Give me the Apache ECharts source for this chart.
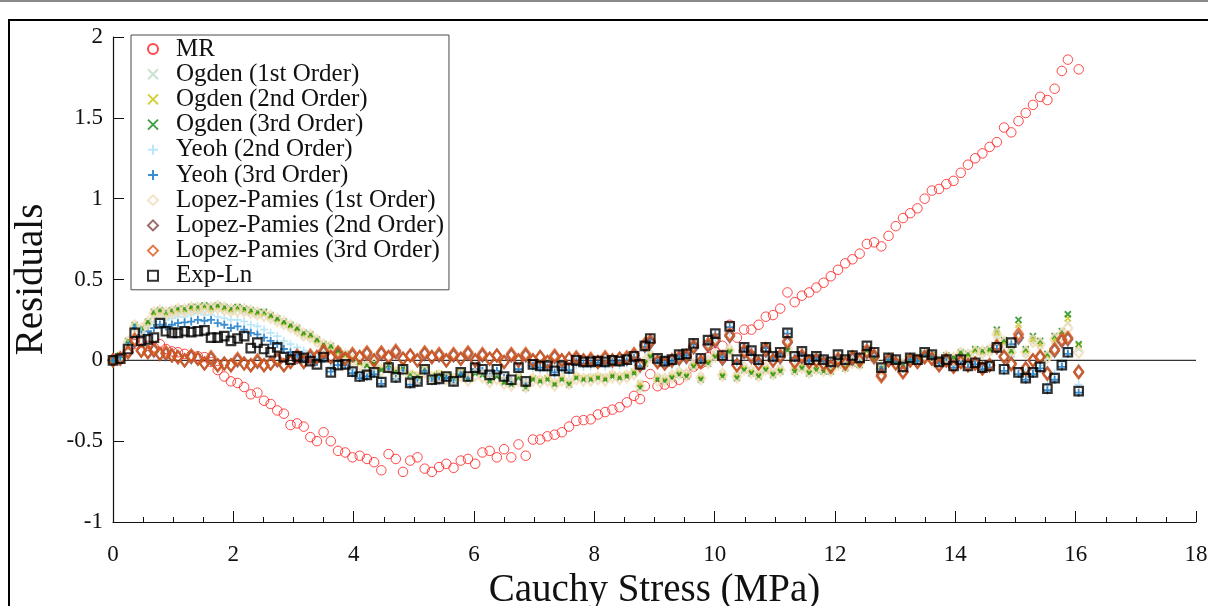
<!DOCTYPE html>
<html><head><meta charset="utf-8">
<script src="https://cdn.jsdelivr.net/npm/echarts/dist/echarts.min.js"></script>
<style>html,body{margin:0;padding:0;background:#fff}#c{width:1208px;height:606px}</style>
</head><body><div id="c"></div>
<script>
// ---- data (Cauchy stress in MPa, residuals) ----
const STRESS = [
 0,0.12,0.25,0.36,0.47,0.58,0.68,0.78,0.88,0.98,
 1.08,1.19,1.3,1.41,1.52,1.63,1.74,1.85,1.96,2.07,
 2.18,2.29,2.4,2.51,2.62,2.73,2.84,2.95,3.06,3.17,
 3.28,3.39,3.5,3.62,3.74,3.86,3.98,4.1,4.22,4.34,
 4.46,4.58,4.7,4.82,4.94,5.06,5.18,5.3,5.42,5.54,
 5.66,5.78,5.9,6.02,6.14,6.26,6.38,6.5,6.62,6.74,
 6.86,6.98,7.1,7.22,7.34,7.46,7.58,7.7,7.82,7.94,
 8.06,8.18,8.3,8.42,8.54,8.66,8.76,8.84,8.93,9.05,
 9.17,9.29,9.41,9.53,9.65,9.77,9.89,10.01,10.13,10.25,
 10.37,10.49,10.61,10.73,10.85,10.97,11.09,11.21,11.33,11.45,
 11.57,11.69,11.81,11.93,12.05,12.17,12.29,12.41,12.53,12.65,
 12.77,12.89,13.01,13.13,13.25,13.37,13.49,13.61,13.73,13.85,
 13.97,14.09,14.21,14.33,14.45,14.57,14.69,14.81,14.93,15.05,
 15.17,15.29,15.41,15.53,15.65,15.77,15.87,16.05];

const MR = [
 0,0.02,0.06,0.1,0.11,0.09,0.08,0.1,0.07,0.055,
 0.05,0.04,0.03,0.025,0.02,-0.01,-0.06,-0.1,-0.13,-0.14,
 -0.165,-0.21,-0.2,-0.25,-0.27,-0.31,-0.33,-0.4,-0.39,-0.41,
 -0.475,-0.5,-0.445,-0.5,-0.56,-0.57,-0.6,-0.59,-0.61,-0.63,
 -0.68,-0.58,-0.61,-0.69,-0.62,-0.6,-0.67,-0.69,-0.66,-0.64,
 -0.665,-0.62,-0.61,-0.64,-0.57,-0.56,-0.6,-0.55,-0.6,-0.52,
 -0.59,-0.49,-0.49,-0.47,-0.46,-0.445,-0.41,-0.375,-0.37,-0.365,
 -0.335,-0.32,-0.305,-0.29,-0.26,-0.22,-0.24,-0.16,-0.085,-0.16,
 -0.15,-0.14,-0.12,-0.09,-0.04,-0.02,0.02,0.05,0.09,0.22,
 0.14,0.19,0.19,0.22,0.27,0.28,0.32,0.42,0.36,0.4,
 0.42,0.45,0.48,0.52,0.56,0.6,0.625,0.66,0.72,0.73,
 0.705,0.77,0.83,0.88,0.91,0.94,1.0,1.05,1.06,1.09,
 1.11,1.16,1.21,1.25,1.28,1.32,1.35,1.44,1.41,1.48,
 1.53,1.58,1.63,1.61,1.68,1.79,1.86,1.80];

const OGDEN_1 = [
 0,0.02,0.1,0.2,0.18,0.22,0.28,0.29,0.28,0.29,
 0.3,0.3,0.31,0.31,0.32,0.31,0.32,0.31,0.3,0.31,
 0.3,0.29,0.28,0.28,0.26,0.24,0.22,0.2,0.18,0.15,
 0.14,0.11,0.08,0.07,0.04,0.02,0.0,-0.02,-0.04,-0.03,
 -0.06,-0.04,-0.07,-0.05,-0.09,-0.1,-0.06,-0.1,-0.09,-0.1,
 -0.1,-0.08,-0.11,-0.08,-0.09,-0.12,-0.1,-0.13,-0.14,-0.1,
 -0.15,-0.11,-0.12,-0.11,-0.14,-0.11,-0.13,-0.1,-0.11,-0.1,
 -0.1,-0.1,-0.09,-0.1,-0.09,-0.07,-0.14,0.0,0.04,-0.1,
 -0.11,-0.09,-0.07,-0.08,-0.02,-0.1,0.0,0.04,-0.08,0.07,
 -0.09,-0.04,-0.06,-0.08,-0.04,-0.07,-0.05,0.08,-0.05,-0.03,
 -0.06,-0.04,-0.05,-0.05,-0.01,-0.03,0.0,-0.01,0.07,0.02,
 -0.04,0.01,0.0,-0.02,0.02,0.01,0.03,0.02,0.0,0.02,
 0.01,0.03,0.02,0.05,0.04,0.05,0.15,0.1,0.04,0.2,
 0.04,0.11,0.09,0.02,0.12,0.15,0.23,0.07];

const OGDEN_2 = [
 0,0.03,0.11,0.21,0.19,0.23,0.29,0.3,0.29,0.3,
 0.31,0.31,0.32,0.32,0.33,0.32,0.33,0.32,0.31,0.32,
 0.31,0.3,0.29,0.29,0.27,0.25,0.23,0.21,0.19,0.16,
 0.15,0.12,0.09,0.08,0.05,0.03,0.0,-0.02,-0.03,-0.02,
 -0.05,-0.03,-0.06,-0.04,-0.08,-0.09,-0.05,-0.09,-0.08,-0.09,
 -0.1,-0.07,-0.11,-0.07,-0.08,-0.12,-0.09,-0.13,-0.14,-0.1,
 -0.15,-0.11,-0.12,-0.11,-0.14,-0.11,-0.14,-0.1,-0.11,-0.11,
 -0.1,-0.11,-0.09,-0.1,-0.09,-0.07,-0.15,-0.01,0.03,-0.11,
 -0.12,-0.1,-0.08,-0.09,-0.03,-0.11,-0.01,0.03,-0.09,0.06,
 -0.1,-0.05,-0.07,-0.09,-0.05,-0.08,-0.06,0.07,-0.06,-0.04,
 -0.07,-0.05,-0.06,-0.06,-0.02,-0.04,-0.01,-0.02,0.06,0.01,
 -0.05,0.0,-0.01,-0.03,0.01,0.01,0.03,0.03,0.0,0.02,
 0.02,0.04,0.03,0.06,0.05,0.06,0.17,0.11,0.05,0.22,
 0.06,0.13,0.1,0.03,0.13,0.16,0.26,0.09];

const OGDEN_3 = [
 0,0.03,0.12,0.22,0.2,0.24,0.3,0.31,0.3,0.31,
 0.32,0.32,0.33,0.33,0.34,0.33,0.34,0.33,0.32,0.33,
 0.32,0.31,0.3,0.3,0.28,0.26,0.24,0.22,0.2,0.17,
 0.16,0.13,0.1,0.09,0.06,0.04,0.01,-0.01,-0.03,-0.02,
 -0.06,-0.03,-0.07,-0.05,-0.09,-0.1,-0.06,-0.1,-0.09,-0.1,
 -0.11,-0.08,-0.12,-0.08,-0.09,-0.13,-0.1,-0.14,-0.15,-0.11,
 -0.17,-0.12,-0.13,-0.12,-0.15,-0.12,-0.15,-0.11,-0.12,-0.12,
 -0.11,-0.12,-0.1,-0.11,-0.1,-0.08,-0.17,-0.02,0.02,-0.12,
 -0.13,-0.11,-0.09,-0.1,-0.04,-0.12,-0.02,0.02,-0.1,0.05,
 -0.11,-0.06,-0.08,-0.1,-0.06,-0.09,-0.07,0.06,-0.07,-0.05,
 -0.08,-0.06,-0.07,-0.07,-0.03,-0.05,-0.02,-0.03,0.06,0.01,
 -0.05,0.0,-0.01,-0.03,0.01,0.01,0.04,0.03,0.0,0.03,
 0.02,0.05,0.04,0.07,0.06,0.07,0.19,0.125,0.06,0.25,
 0.07,0.15,0.12,0.04,0.15,0.18,0.285,0.1];

const YEOH_2 = [
 0,0.02,0.1,0.21,0.18,0.2,0.24,0.26,0.25,0.26,
 0.27,0.27,0.28,0.29,0.28,0.28,0.27,0.26,0.25,0.25,
 0.24,0.22,0.21,0.19,0.17,0.15,0.12,0.1,0.08,0.06,
 0.05,0.02,0.03,-0.04,-0.01,-0.02,-0.06,-0.08,-0.08,-0.07,
 -0.11,-0.05,-0.1,-0.06,-0.12,-0.12,-0.07,-0.11,-0.11,-0.1,
 -0.12,-0.08,-0.11,-0.06,-0.07,-0.1,-0.07,-0.11,-0.12,-0.07,
 -0.13,-0.05,-0.06,-0.06,-0.09,-0.06,-0.08,-0.03,-0.04,-0.04,
 -0.03,-0.04,-0.03,-0.03,-0.02,0.0,-0.06,0.06,0.1,-0.02,
 -0.04,-0.03,0.0,0.01,0.07,-0.02,0.09,0.13,0.0,0.17,
 -0.02,0.05,0.03,-0.02,0.05,0.0,0.02,0.14,0.0,0.03,
 -0.01,0.01,-0.01,-0.03,0.02,-0.01,0.02,0.01,0.08,0.04,
 -0.06,0.01,0.0,-0.05,0.01,0.0,0.05,0.03,-0.01,0.01,
 -0.03,0.01,-0.02,0.0,-0.03,-0.02,0.09,-0.03,0.02,0.12,
 -0.07,-0.06,-0.03,-0.15,-0.08,-0.01,0.07,-0.15];

const YEOH_3 = [
 0,0.02,0.09,0.2,0.16,0.18,0.2,0.22,0.21,0.22,
 0.23,0.235,0.24,0.25,0.245,0.25,0.23,0.22,0.2,0.21,
 0.19,0.17,0.16,0.14,0.12,0.1,0.07,0.05,0.035,0.02,
 0.01,-0.01,0.01,-0.07,-0.03,-0.03,-0.08,-0.11,-0.1,-0.085,
 -0.145,-0.055,-0.115,-0.065,-0.15,-0.14,-0.065,-0.13,-0.125,-0.11,
 -0.14,-0.085,-0.11,-0.055,-0.065,-0.1,-0.065,-0.11,-0.13,-0.055,
 -0.14,-0.035,-0.045,-0.045,-0.075,-0.045,-0.06,-0.01,-0.02,-0.02,
 -0.015,-0.02,-0.01,-0.015,-0.005,0.015,-0.035,0.085,0.13,0.0,
 -0.015,-0.005,0.025,0.03,0.1,0.0,0.12,0.16,0.02,0.205,
 -0.005,0.075,0.05,-0.005,0.075,0.015,0.04,0.165,0.015,0.045,
 -0.005,0.015,-0.005,-0.02,0.025,-0.005,0.02,0.005,0.085,0.04,
 -0.055,0.005,-0.005,-0.05,0.005,-0.005,0.04,0.025,-0.02,-0.005,
 -0.045,-0.005,-0.045,-0.025,-0.055,-0.045,0.07,-0.065,0.1,-0.085,
 -0.12,-0.085,-0.05,-0.185,-0.12,-0.04,0.04,-0.2];

const LOPEZ_PAMIES_1 = [
 0,0.02,0.11,0.21,0.19,0.23,0.29,0.3,0.29,0.3,
 0.31,0.31,0.32,0.32,0.32,0.32,0.33,0.32,0.31,0.31,
 0.31,0.3,0.29,0.28,0.27,0.25,0.23,0.21,0.19,0.16,
 0.15,0.12,0.09,0.08,0.05,0.03,0.0,-0.02,-0.04,-0.02,
 -0.06,-0.04,-0.08,-0.05,-0.1,-0.11,-0.07,-0.11,-0.1,-0.11,
 -0.12,-0.09,-0.12,-0.09,-0.1,-0.13,-0.11,-0.14,-0.15,-0.12,
 -0.16,-0.12,-0.13,-0.12,-0.15,-0.12,-0.14,-0.11,-0.12,-0.12,
 -0.11,-0.12,-0.1,-0.11,-0.1,-0.08,-0.16,-0.01,0.03,-0.12,
 -0.12,-0.1,-0.08,-0.09,-0.03,-0.11,-0.01,0.03,-0.09,0.06,
 -0.1,-0.05,-0.07,-0.09,-0.05,-0.08,-0.06,0.07,-0.06,-0.04,
 -0.07,-0.05,-0.06,-0.06,-0.02,-0.04,-0.01,-0.02,0.06,0.01,
 -0.05,0.0,-0.01,-0.03,0.0,0.0,0.03,0.02,-0.01,0.02,
 0.01,0.04,0.03,0.05,0.05,0.06,0.16,0.11,0.05,0.17,
 0.05,0.12,0.1,0.02,0.13,0.16,0.2,0.05];

const LOPEZ_PAMIES_2 = [
 0,0.01,0.05,0.12,0.06,0.05,0.06,0.04,0.04,0.03,
 0.02,0.0,0.02,0.01,-0.02,0.01,-0.03,-0.02,-0.03,0.0,
 -0.02,-0.03,-0.01,-0.03,-0.02,0.0,-0.03,-0.01,0.02,-0.01,
 0.02,0.02,0.05,0.02,0.04,0.01,0.03,0.02,0.04,0.0,
 0.04,0.02,0.05,0.01,0.03,0.0,0.04,0.02,0.03,0.0,
 0.03,0.01,0.04,0.0,0.03,0.01,0.03,-0.01,0.03,0.0,
 0.03,0.0,0.02,-0.01,0.02,0.0,0.01,0.01,0.0,0.0,
 -0.01,0.01,0.0,0.01,0.01,0.03,-0.03,0.09,0.11,-0.01,
 -0.02,0.0,0.01,0.02,0.08,-0.01,0.09,0.12,0.01,0.15,
 -0.03,0.05,0.02,-0.02,0.06,0.0,0.02,0.11,-0.01,0.02,
 -0.01,0.0,-0.02,-0.04,0.0,-0.02,0.01,0.0,0.05,0.02,
 -0.09,0.0,-0.02,-0.07,0.0,-0.01,0.02,0.01,-0.03,0.0,
 -0.04,-0.01,-0.03,-0.02,-0.05,-0.03,0.08,0.02,-0.02,0.14,
 -0.05,0.0,0.02,-0.08,0.06,0.12,0.13,-0.07];

const LOPEZ_PAMIES_3 = [
 0,0.01,0.05,0.13,0.06,0.05,0.07,0.04,0.05,0.03,
 0.02,0.0,0.03,0.01,-0.02,0.02,-0.03,-0.02,-0.03,0.01,
 -0.02,-0.03,0.0,-0.03,-0.02,0.01,-0.03,-0.01,0.03,-0.01,
 0.03,0.02,0.06,0.02,0.05,0.01,0.04,0.02,0.05,0.0,
 0.05,0.02,0.06,0.01,0.03,0.0,0.05,0.02,0.04,0.0,
 0.04,0.01,0.05,0.0,0.04,0.01,0.03,-0.01,0.04,0.0,
 0.04,0.0,0.02,-0.01,0.03,0.0,0.01,0.02,0.0,0.01,
 -0.01,0.02,0.0,0.01,0.02,0.04,-0.03,0.1,0.12,-0.01,
 -0.02,0.0,0.02,0.03,0.09,-0.01,0.1,0.13,0.02,0.16,
 -0.03,0.06,0.03,-0.02,0.07,0.0,0.03,0.12,-0.01,0.03,
 -0.01,0.0,-0.02,-0.04,0.01,-0.02,0.02,0.0,0.06,0.03,
 -0.1,0.0,-0.02,-0.075,0.0,-0.01,0.02,0.01,-0.03,0.0,
 -0.04,-0.01,-0.03,-0.02,-0.05,-0.03,0.09,0.025,-0.025,0.16,
 -0.055,0.0,0.025,-0.085,0.07,0.13,0.14,-0.075];

const EXP_LN = [
 0,0.01,0.07,0.17,0.12,0.13,0.14,0.23,0.18,0.17,
 0.17,0.18,0.175,0.18,0.185,0.14,0.14,0.15,0.12,0.135,
 0.15,0.075,0.11,0.07,0.05,0.08,0.02,0.005,0.025,0.015,
 -0.005,-0.025,0.02,-0.075,-0.03,-0.025,-0.07,-0.1,-0.09,-0.075,
 -0.135,-0.045,-0.105,-0.055,-0.14,-0.13,-0.055,-0.12,-0.115,-0.1,
 -0.13,-0.075,-0.1,-0.045,-0.055,-0.09,-0.055,-0.1,-0.12,-0.045,
 -0.13,-0.025,-0.035,-0.035,-0.065,-0.035,-0.05,0,-0.01,-0.01,
 -0.005,-0.01,0,-0.005,0.005,0.025,-0.025,0.09,0.135,0.012,
 -0.005,0.005,0.035,0.04,0.105,0.012,0.125,0.165,0.03,0.21,
 0.005,0.08,0.06,0.005,0.08,0.025,0.05,0.17,0.025,0.055,
 0.005,0.025,0.005,-0.01,0.035,0.005,0.03,0.015,0.09,0.05,
 -0.045,0.015,0.005,-0.04,0.015,0.005,0.05,0.035,-0.01,0.005,
 -0.035,0.005,-0.035,-0.015,-0.045,-0.035,0.08,-0.055,0.11,-0.075,
 -0.11,-0.075,-0.04,-0.175,-0.11,-0.03,0.05,-0.19];

const ZERO_LINE_X = [0, 18];
const X_TICKS = {min: 0, max: 18, step: 2};
const Y_TICKS = {min: -1, max: 2, step: 0.5};

// ---- chart ----
function pts(ys) {
  const n = Math.min(ys.length, STRESS.length), out = [];
  for (let i = 0; i < n; i++) out.push([STRESS[i], ys[i]]);
  return out;
}
const CROSS = 'path://M0,0L10,10M10,0L0,10';
const PLUS = 'path://M5,0L5,10M0,5L10,5';
const SERIF = '"Liberation Serif", "Times New Roman", serif';

function hollow(name, data, symbol, size, color, bw) {
  return {
    name, type: 'scatter', data: pts(data), symbol, symbolSize: size,
    itemStyle: {color: 'rgba(0,0,0,0)', borderColor: color, borderWidth: bw},
    emphasis: {disabled: true}, silent: true
  };
}

const series = [
  {
    name: 'zero', type: 'line', data: ZERO_LINE_X.map(x => [x, 0]),
    symbol: 'none', lineStyle: {color: '#333333', width: 1.2}, silent: true, z: 1
  },
  hollow('MR', MR, 'circle', 9.5, '#ff1a1a', 1),
  hollow('Ogden (1st Order)', OGDEN_1, CROSS, 6, '#bcdcc6', 1.6),
  hollow('Ogden (2nd Order)', OGDEN_2, CROSS, 6, '#c8c200', 1.6),
  hollow('Ogden (3rd Order)', OGDEN_3, CROSS, 6, '#138a13', 1.8),
  hollow('Yeoh (2nd Order)', YEOH_2, PLUS, 8, '#a9e0f8', 1.6),
  hollow('Yeoh (3rd Order)', YEOH_3, PLUS, 8, '#0b72c4', 1.8),
  hollow('Lopez-Pamies (1st Order)', LOPEZ_PAMIES_1, 'diamond', [9, 12], '#f3dcb9', 2.2),
  hollow('Lopez-Pamies (2nd Order)', LOPEZ_PAMIES_2, 'diamond', [9, 12], '#7e4545', 2.2),
  hollow('Lopez-Pamies (3rd Order)', LOPEZ_PAMIES_3, 'diamond', [9, 12], '#d9571c', 2.2),
  hollow('Exp-Ln', EXP_LN, 'rect', 8.5, '#000000', 2.2)
];

const chart = echarts.init(document.getElementById('c'), null, {renderer: 'canvas'});
chart.setOption({
  animation: false,
  backgroundColor: '#ffffff',
  grid: {left: 113, right: 12, top: 37, bottom: 84, containLabel: false, outerBoundsMode: 'none'},
  xAxis: {
    type: 'value', min: X_TICKS.min, max: X_TICKS.max, interval: X_TICKS.step,
    name: 'Cauchy Stress (MPa)', nameLocation: 'middle', nameGap: 48,
    nameTextStyle: {fontFamily: SERIF, fontSize: 39, color: '#111'},
    axisLine: {show: true, onZero: false, lineStyle: {color: '#111', width: 1.2}},
    axisTick: {show: true, inside: true, length: 11, lineStyle: {color: '#111', width: 1}},
    minorTick: {show: true, splitNumber: 4, length: 5, lineStyle: {color: '#111', width: 1}},
    axisLabel: {fontFamily: SERIF, fontSize: 23, color: '#111', margin: 21, showMinLabel: true, showMaxLabel: true},
    splitLine: {show: false}, minorSplitLine: {show: false}
  },
  yAxis: {
    type: 'value', min: Y_TICKS.min, max: Y_TICKS.max, interval: Y_TICKS.step,
    name: 'Residuals', nameLocation: 'middle', nameGap: 62, nameRotate: 90,
    nameTextStyle: {fontFamily: SERIF, fontSize: 39, color: '#111'},
    axisLine: {show: true, onZero: false, lineStyle: {color: '#111', width: 1.2}},
    axisTick: {show: true, inside: true, length: 11, lineStyle: {color: '#111', width: 1}},
    axisLabel: {fontFamily: SERIF, fontSize: 23, color: '#111', margin: 10},
    splitLine: {show: false}
  },
  legend: {
    show: true, orient: 'vertical', left: 131, top: 35,
    data: series.slice(1).map(s => s.name),
    itemWidth: 10, itemHeight: 10, itemGap: 0.2,
    padding: [1.5, 5, 1.5, 16],
    backgroundColor: '#ffffff', borderColor: '#4a4a4a', borderWidth: 1,
    selectedMode: false,
    textStyle: {fontFamily: SERIF, fontSize: 25, lineHeight: 25, color: '#111', padding: [0, 0, 0, 13]}
  },
  graphic: [
    {type: 'line', silent: true, shape: {x1: 0, y1: 1, x2: 1208, y2: 1}, style: {stroke: '#8a8a8a', lineWidth: 2}},
    {type: 'rect', silent: true, shape: {x: 9, y: 20, width: 1300, height: 700}, style: {fill: 'none', stroke: '#000', lineWidth: 2}}
  ],
  series
});
</script>
</body></html>
